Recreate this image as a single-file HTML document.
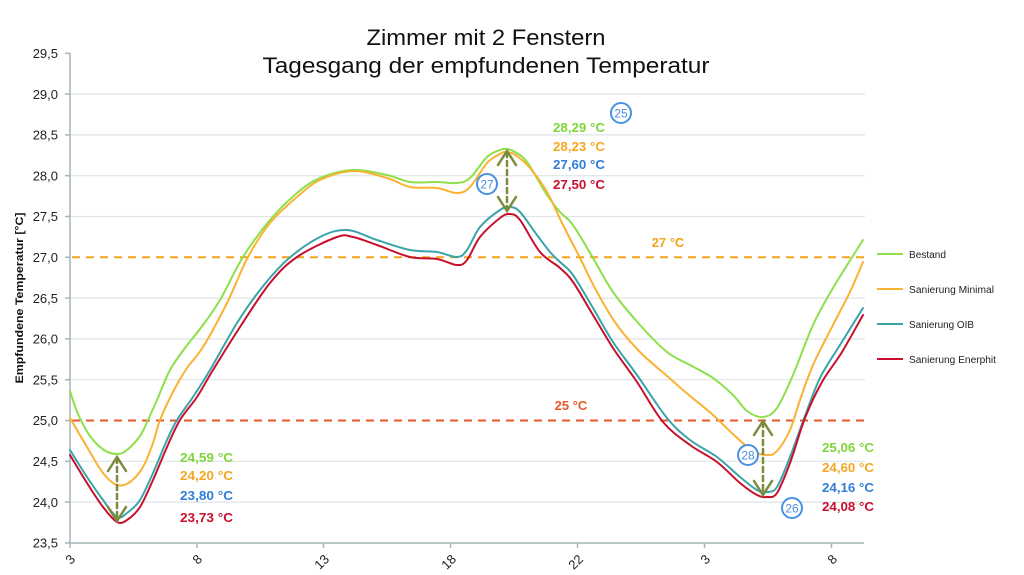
<!DOCTYPE html>
<html>
<head>
<meta charset="utf-8">
<style>
html,body{margin:0;padding:0;background:#fff;}
svg{display:block;}
text{font-family:"Liberation Sans",sans-serif;}
</style>
</head>
<body>
<svg id="c" width="1024" height="575" viewBox="0 0 1024 575" xmlns="http://www.w3.org/2000/svg">
<rect width="1024" height="575" fill="#fff"/>
<!-- Title -->
<text x="486" y="45" font-size="22" text-anchor="middle" fill="#111" textLength="239" lengthAdjust="spacingAndGlyphs">Zimmer mit 2 Fenstern</text>
<text x="486" y="73" font-size="22" text-anchor="middle" fill="#111" textLength="447" lengthAdjust="spacingAndGlyphs">Tagesgang der empfundenen Temperatur</text>

<!-- gridlines -->
<g stroke="#dfe4e6" stroke-width="1.2">
<line x1="70" y1="94.1" x2="865" y2="94.1"/>
<line x1="70" y1="134.9" x2="865" y2="134.9"/>
<line x1="70" y1="175.7" x2="865" y2="175.7"/>
<line x1="70" y1="216.5" x2="865" y2="216.5"/>
<line x1="70" y1="298.1" x2="865" y2="298.1"/>
<line x1="70" y1="338.9" x2="865" y2="338.9"/>
<line x1="70" y1="379.7" x2="865" y2="379.7"/>
<line x1="70" y1="461.3" x2="865" y2="461.3"/>
<line x1="70" y1="502.1" x2="865" y2="502.1"/>
</g>

<!-- axes -->
<g stroke="#a3b5b9" stroke-width="1.5">
<line x1="70" y1="53" x2="70" y2="543"/>
<line x1="70" y1="543" x2="864" y2="543"/>
<line x1="65" y1="53.3" x2="70" y2="53.3"/>
<line x1="65" y1="94.1" x2="70" y2="94.1"/>
<line x1="65" y1="134.9" x2="70" y2="134.9"/>
<line x1="65" y1="175.7" x2="70" y2="175.7"/>
<line x1="65" y1="216.5" x2="70" y2="216.5"/>
<line x1="65" y1="257.3" x2="70" y2="257.3"/>
<line x1="65" y1="298.1" x2="70" y2="298.1"/>
<line x1="65" y1="338.9" x2="70" y2="338.9"/>
<line x1="65" y1="379.7" x2="70" y2="379.7"/>
<line x1="65" y1="420.5" x2="70" y2="420.5"/>
<line x1="65" y1="461.3" x2="70" y2="461.3"/>
<line x1="65" y1="502.1" x2="70" y2="502.1"/>
<line x1="65" y1="542.9" x2="70" y2="542.9"/>
<line x1="70" y1="543" x2="70" y2="548"/>
<line x1="197" y1="543" x2="197" y2="548"/>
<line x1="323.5" y1="543" x2="323.5" y2="548"/>
<line x1="450.5" y1="543" x2="450.5" y2="548"/>
<line x1="577.5" y1="543" x2="577.5" y2="548"/>
<line x1="704.5" y1="543" x2="704.5" y2="548"/>
<line x1="831.5" y1="543" x2="831.5" y2="548"/>
</g>

<!-- y labels -->
<g font-size="13" fill="#222" text-anchor="end">
<text x="58" y="58">29,5</text>
<text x="58" y="98.8">29,0</text>
<text x="58" y="139.6">28,5</text>
<text x="58" y="180.4">28,0</text>
<text x="58" y="221.2">27,5</text>
<text x="58" y="262">27,0</text>
<text x="58" y="302.8">26,5</text>
<text x="58" y="343.6">26,0</text>
<text x="58" y="384.4">25,5</text>
<text x="58" y="425.2">25,0</text>
<text x="58" y="466">24,5</text>
<text x="58" y="506.8">24,0</text>
<text x="58" y="547.6">23,5</text>
</g>
<text transform="translate(23,298) rotate(-90)" font-size="11" font-weight="bold" fill="#111" text-anchor="middle" textLength="171" lengthAdjust="spacingAndGlyphs">Empfundene Temperatur [°C]</text>

<!-- x labels -->
<g font-size="13" fill="#222" text-anchor="end">
<text transform="translate(76,560) rotate(-45)">3</text>
<text transform="translate(203,560) rotate(-45)">8</text>
<text transform="translate(330,560) rotate(-45)">13</text>
<text transform="translate(457,560) rotate(-45)">18</text>
<text transform="translate(584,560) rotate(-45)">22</text>
<text transform="translate(711,560) rotate(-45)">3</text>
<text transform="translate(838,560) rotate(-45)">8</text>
</g>

<!-- reference dashed lines -->
<line x1="72" y1="257.3" x2="866" y2="257.3" stroke="#f5a41c" stroke-width="2" stroke-dasharray="8,6"/>
<line x1="72" y1="420.5" x2="866" y2="420.5" stroke="#e8582c" stroke-width="2" stroke-dasharray="8,6"/>
<text x="668" y="247" font-size="13" font-weight="bold" fill="#f5a41c" text-anchor="middle">27 °C</text>
<text x="571" y="410" font-size="13" font-weight="bold" fill="#e8582c" text-anchor="middle">25 °C</text>

<!-- series -->
<g id="series" fill="none" stroke-width="2" stroke-linejoin="round" stroke-linecap="round"></g>

<!-- arrows -->
<g stroke="#7b8b3d" stroke-width="2.5" fill="none" stroke-linecap="round">
<line x1="117" y1="458" x2="117" y2="520" stroke-dasharray="5,4"/>
<polyline points="108,471 117,457 126,471"/>
<polyline points="108,507 117,521 126,507"/>
<line x1="507" y1="152" x2="507" y2="210" stroke-dasharray="5,4"/>
<polyline points="498,165 507,151 516,165"/>
<polyline points="498,197 507,211 516,197"/>
<line x1="763" y1="422" x2="763" y2="494" stroke-dasharray="5,4"/>
<polyline points="754,435 763,421 772,435"/>
<polyline points="754,481 763,495 772,481"/>
</g>

<!-- value labels -->
<g font-size="13" font-weight="bold">
<text x="180" y="462" fill="#7fd63a" textLength="53" lengthAdjust="spacingAndGlyphs">24,59 °C</text>
<text x="180" y="480" fill="#f5a623" textLength="53" lengthAdjust="spacingAndGlyphs">24,20 °C</text>
<text x="180" y="500" fill="#2f7fd9" textLength="53" lengthAdjust="spacingAndGlyphs">23,80 °C</text>
<text x="180" y="522" fill="#c8102e" textLength="53" lengthAdjust="spacingAndGlyphs">23,73 °C</text>

<text x="553" y="132" fill="#7fd63a" textLength="52" lengthAdjust="spacingAndGlyphs">28,29 °C</text>
<text x="553" y="151" fill="#f5a623" textLength="52" lengthAdjust="spacingAndGlyphs">28,23 °C</text>
<text x="553" y="169" fill="#2f7fd9" textLength="52" lengthAdjust="spacingAndGlyphs">27,60 °C</text>
<text x="553" y="189" fill="#c8102e" textLength="52" lengthAdjust="spacingAndGlyphs">27,50 °C</text>

<text x="822" y="452" fill="#7fd63a" textLength="52" lengthAdjust="spacingAndGlyphs">25,06 °C</text>
<text x="822" y="472" fill="#f5a623" textLength="52" lengthAdjust="spacingAndGlyphs">24,60 °C</text>
<text x="822" y="492" fill="#2f7fd9" textLength="52" lengthAdjust="spacingAndGlyphs">24,16 °C</text>
<text x="822" y="511" fill="#c8102e" textLength="52" lengthAdjust="spacingAndGlyphs">24,08 °C</text>
</g>

<!-- circles -->
<g fill="#fff" stroke="#4a90e2" stroke-width="2">
<circle cx="621" cy="113" r="10"/>
<circle cx="487" cy="184" r="10"/>
<circle cx="748" cy="455" r="10"/>
<circle cx="792" cy="508" r="10"/>
</g>
<g font-size="12" fill="#4a90e2" text-anchor="middle">
<text x="621" y="117.5">25</text>
<text x="487" y="188.5">27</text>
<text x="748" y="459.5">28</text>
<text x="792" y="512.5">26</text>
</g>

<!-- legend -->
<g stroke-width="2">
<line x1="877" y1="254" x2="903" y2="254" stroke="#8ee04a"/>
<line x1="877" y1="289" x2="903" y2="289" stroke="#f9b233"/>
<line x1="877" y1="324" x2="903" y2="324" stroke="#3aa4aa"/>
<line x1="877" y1="359" x2="903" y2="359" stroke="#c8102e"/>
</g>
<g font-size="10" fill="#222">
<text x="909" y="258" textLength="37" lengthAdjust="spacingAndGlyphs">Bestand</text>
<text x="909" y="293" textLength="85" lengthAdjust="spacingAndGlyphs">Sanierung Minimal</text>
<text x="909" y="328" textLength="65" lengthAdjust="spacingAndGlyphs">Sanierung OIB</text>
<text x="909" y="363" textLength="87" lengthAdjust="spacingAndGlyphs">Sanierung Enerphit</text>
</g>
</svg>
<script>
(function(){
var S={
green:{c:"#8ee04a",p:[[70,391],[78,414],[90,436],[104,450],[117,454],[127,450],[140,436],[148,420],[157,400],[170,370],[185,348],[203,325],[220,300],[243,257],[270,220],[297,193],[320,178],[353,170],[387,175],[410,182],[437,182],[457,183],[470,178],[487,157],[500,150],[507,149],[515,152],[527,162],[547,195],[560,212],[573,225],[593,258],[613,292],[640,325],[667,352],[690,365],[713,378],[733,395],[747,411],[763,417],[777,408],[793,375],[813,325],[833,288],[863,240]]},
orange:{c:"#f9b233",p:[[70,418],[87,447],[103,473],[117,485],[130,482],[143,467],[153,443],[160,420],[173,392],[187,368],[203,347],[227,303],[248,257],[270,223],[297,197],[320,180],[353,171],[387,178],[410,187],[437,188],[457,193],[470,187],[487,163],[500,154],[507,152],[517,156],[530,168],[547,192],[563,225],[580,258],[597,292],[617,325],[640,352],[667,376],[690,396],[712,414],[735,436],[753,451],[767,455],[777,451],[790,430],[800,400],[813,365],[833,325],[850,292],[863,262]]},
teal:{c:"#3aa4aa",p:[[70,450],[87,477],[103,500],[117,517],[127,513],[140,500],[153,473],[167,440],[177,420],[193,397],[210,370],[237,323],[260,290],[287,260],[320,237],[347,230],[377,240],[410,250],[437,252],[457,257],[467,250],[480,227],[500,210],[510,207],[520,212],[537,235],[550,252],[560,262],[573,275],[593,308],[613,342],[637,375],[667,418],[690,440],[717,457],[740,477],[757,490],[767,492],[777,487],[790,457],[805,416],[820,378],[840,345],[863,308]]},
red:{c:"#c8102e",p:[[70,455],[87,483],[103,507],[117,522],[127,520],[140,507],[153,480],[167,447],[180,420],[197,397],[213,370],[240,327],[270,283],[297,257],[337,237],[353,237],[377,245],[410,257],[437,259],[457,265],[467,260],[480,237],[500,218],[510,214],[520,220],[540,252],[560,268],[573,282],[593,315],[613,348],[637,382],[663,422],[690,445],[717,462],[740,483],[757,495],[767,497],[777,493],[790,463],[805,418],[822,382],[842,352],[863,315]]}
};
function path(p){
  var d="M"+p[0][0]+","+p[0][1];
  for(var i=0;i<p.length-1;i++){
    var p0=p[i-1]||p[i],p1=p[i],p2=p[i+1],p3=p[i+2]||p2;
    var c1x=p1[0]+(p2[0]-p0[0])/6,c1y=p1[1]+(p2[1]-p0[1])/6;
    var c2x=p2[0]-(p3[0]-p1[0])/6,c2y=p2[1]-(p3[1]-p1[1])/6;
    d+="C"+c1x.toFixed(1)+","+c1y.toFixed(1)+" "+c2x.toFixed(1)+","+c2y.toFixed(1)+" "+p2[0]+","+p2[1];
  }
  return d;
}
var g=document.getElementById("series"),ns="http://www.w3.org/2000/svg";
["green","orange","teal","red"].forEach(function(k){
  var e=document.createElementNS(ns,"path");
  e.setAttribute("d",path(S[k].p));
  e.setAttribute("stroke",S[k].c);
  g.appendChild(e);
});
})();
</script>
</body>
</html>
